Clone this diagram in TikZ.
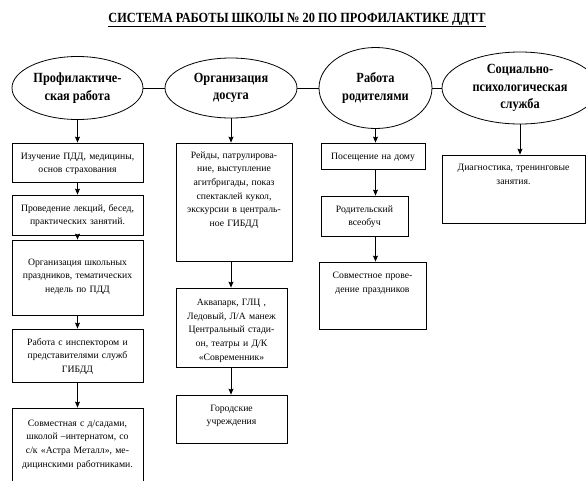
\documentclass[tikz,border=0pt]{standalone}
\usepackage{fontspec}
\setmainfont{Liberation Serif}
\newfontfamily\headfont[FakeStretch=0.88]{Liberation Serif}
\usepackage{tikz}
\usetikzlibrary{shapes, arrows.meta, positioning}

\begin{document}
\begin{tikzpicture}[
		x=1pt, y=-1pt,
		oval/.style={draw, ellipse, inner sep=0pt, align=center, font=\headfont\bfseries\fontsize{14}{17.5}\selectfont},
		box/.style n args={3}{draw, anchor=base, inner xsep=2pt, inner ysep=0pt, align=center,
			text width=#1, text height=#2, text depth=#3, font=\fontsize{9.7}{13.7}\selectfont},
		every path/.style={line width=0.8pt}
		]
		\useasboundingbox (0,0) rectangle (586,480);
		
		% Title
		\node[font=\headfont\bfseries\fontsize{14}{16}\selectfont] (title) at (297,20)
		{\underline{СИСТЕМА РАБОТЫ ШКОЛЫ № 20 ПО ПРОФИЛАКТИКЕ ДДТТ}};
		
		% Directions
		\node[oval, minimum width=131pt, minimum height=63pt] (prof) at (77.5,88) {Профилактиче-\\ская работа};
		\node[oval, minimum width=132pt, minimum height=60pt] (dosug) at (231,88) {Организация\\досуга};
		\node[oval, minimum width=113pt, minimum height=81pt] (rodit) at (375.5,88) {Работа\\родителями};
		\node[oval, minimum width=156pt, minimum height=72pt] (psych) at (520,88) {Социально-\\психологическая\\служба};
		
		% Column 1
		\node[box={127pt}{16pt}{23pt}] (pdd) at (77.5,159) {Изучение ПДД, медицины,\\основ страхования};
		\node[box={127pt}{16pt}{24pt}] (lect) at (77.5,211) {Проведение лекций, бесед,\\практических занятий.};
		\node[box={127pt}{25pt}{50pt}] (prazd) at (77.5,265) {Организация школьных\\праздников, тематических\\недель по ПДД};
		\node[box={127pt}{16pt}{37pt}] (insp) at (77.5,345) {Работа с инспектором и\\представителями служб\\ГИБДД};
		\node[box={127pt}{18pt}{60pt}] (sovm) at (77.5,426) {Совместная с д/садами,\\школой –интернатом, со\\с/к «Астра Металл», ме-\\дицинскими работниками.};
		
		% Column 2
		\node[box={112pt}{15pt}{103pt}] (reid) at (234,158) {Рейды, патрулирова-\\ние, выступление\\агитбригады, показ\\спектаклей кукол,\\экскурсии в централь-\\ное ГИБДД};
		\node[box={107pt}{17.5pt}{61.5pt}] (akva) at (231.5,305.5) {Аквапарк, ГЛЦ ,\\Ледовый, Л/А манеж\\Центральный стади-\\он, театры и Д/К\\«Современник»};
		\node[box={107pt}{16pt}{32pt}] (gorod) at (231.5,411) {Городские\\учреждения};
		
		% Column 3
		\node[box={100pt}{16pt}{10pt}] (dom) at (373,159) {Посещение на дому};
		\node[box={83pt}{16pt}{24pt}] (vseob) at (364.5,212) {Родительский\\всеобуч};
		\node[box={103pt}{16.5pt}{50.5pt}] (sprazd) at (372.5,278.5) {Совместное прове-\\дение праздников};
		
		% Column 4
		\node[box={139pt}{15.5pt}{52.5pt}] (diag) at (513.5,170.5) {Диагностика, тренинговые\\занятия.};
		
		% Links
		\foreach \i/\j in {prof/dosug, dosug/rodit, rodit/psych}
		\draw (\i) -- (\j);
		
		% Arrows
		\foreach \i/\j/\k in {prof/pdd/prof, pdd/lect/prof, lect/prazd/prof, prazd/insp/prof, insp/sovm/prof,
			dosug/reid/dosug, reid/akva/dosug, akva/gorod/dosug,
			rodit/dom/rodit, dom/vseob/rodit, vseob/sprazd/rodit,
			psych/diag/psych}
		\draw[-{Stealth[length=6pt, width=5pt, inset=1pt]}] (\i.south -| \k) -- (\j.north -| \k);
		
	\end{tikzpicture}
\end{document}
